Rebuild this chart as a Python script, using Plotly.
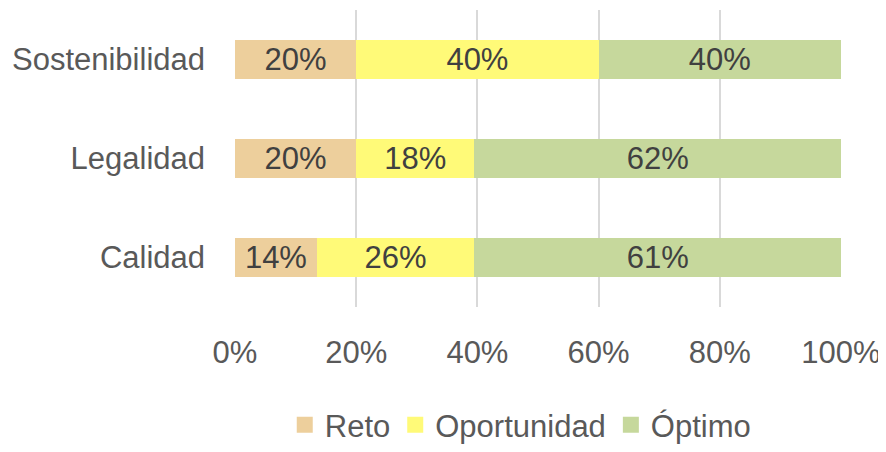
import plotly.graph_objects as go

categories = ["Calidad", "Legalidad", "Sostenibilidad"]
series_names = ["Reto", "Oportunidad", "Óptimo"]
reto = [13.5, 20, 20]
oportunidad = [26, 19.5, 40]
optimo = [60.5, 60.5, 40]
reto_labels = ["14%", "20%", "20%"]
oportunidad_labels = ["26%", "18%", "40%"]
optimo_labels = ["61%", "62%", "40%"]
x_ticks = [0, 20, 40, 60, 80, 100]
x_tick_labels = ["0%", "20%", "40%", "60%", "80%", "100%"]

colors = ["#EDCF9C", "#FFFA78", "#C6D89C"]
values = [reto, oportunidad, optimo]
labels = [reto_labels, oportunidad_labels, optimo_labels]

FONT = "Liberation Sans, Arial"
FS = 31

fig = go.Figure()
for name, vals, txt, col in zip(series_names, values, labels, colors):
    fig.add_trace(go.Bar(
        y=categories, x=vals, name=name, orientation="h",
        marker=dict(color=col, line=dict(width=0)),
        text=txt, textposition="inside", insidetextanchor="middle",
        textfont=dict(size=FS, color="#404040", family=FONT),
        textangle=0, showlegend=False,
    ))
for name, col in zip(series_names, colors):
    fig.add_trace(go.Scatter(
        x=[None], y=[None], mode="markers", name=name,
        marker=dict(symbol="square", size=17, color=col, line=dict(width=0)),
        showlegend=True,
    ))

fig.update_layout(
    barmode="stack", bargap=0.6,
    width=878, height=444,
    margin=dict(l=227, r=45, t=2, b=145, autoexpand=False),
    plot_bgcolor="white", paper_bgcolor="white",
    font=dict(family=FONT, size=FS, color="#595959"),
    legend=dict(orientation="h", xref="container", yref="container",
                x=0.584, xanchor="center", y=-0.013, yanchor="bottom",
                font=dict(size=FS, color="#595959", family=FONT), traceorder="normal",
                itemwidth=30, borderwidth=0),
    uniformtext=dict(minsize=FS, mode="show"),
)
fig.update_xaxes(range=[0, 100], tickvals=x_ticks, ticktext=x_tick_labels,
                 showgrid=True, gridcolor="#D9D9D9", gridwidth=2,
                 zeroline=False, showline=False, ticklabelstandoff=24,
                 automargin=False,
                 tickfont=dict(size=FS, color="#595959", family=FONT))
fig.update_yaxes(showgrid=False, zeroline=False, showline=False, automargin=False,
                 categoryorder="array", categoryarray=categories,
                 ticklabelstandoff=29, tickfont=dict(size=FS, color="#595959", family=FONT))

fig.write_html("out.html")
